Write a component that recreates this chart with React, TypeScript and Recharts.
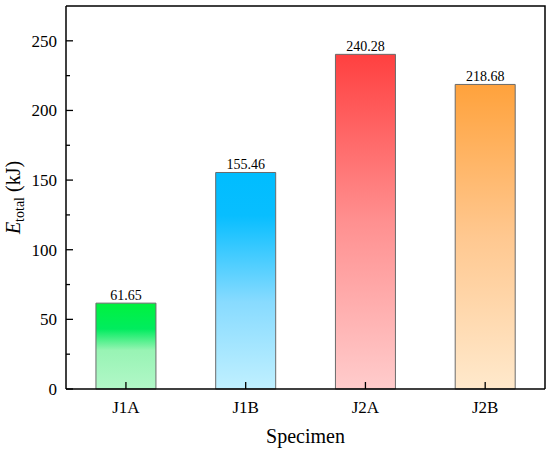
import React from 'react';
import {
  BarChart,
  Bar,
  XAxis,
  YAxis,
  Cell,
  LabelList,
} from 'recharts';

const specimens = ['J1A', 'J1B', 'J2A', 'J2B'];
const energyTotal = [61.65, 155.46, 240.28, 218.68];
const yTicks = [0, 25, 50, 75, 100, 125, 150, 175, 200, 225, 250];
const yMax = 275;

// top-to-bottom gradient stops for each bar
const barGradients = [
  [
    ['0%', '#00f23e'],
    ['30%', '#00ec5e'],
    ['55%', '#98f4b4'],
    ['100%', '#b2f7c8'],
  ],
  [
    ['0%', '#00bdff'],
    ['20%', '#08beff'],
    ['60%', '#88dbff'],
    ['100%', '#c0f0ff'],
  ],
  [
    ['0%', '#ff4040'],
    ['50%', '#ff9090'],
    ['100%', '#ffcccc'],
  ],
  [
    ['0%', '#ffa23c'],
    ['50%', '#ffc890'],
    ['100%', '#ffe9cc'],
  ],
];

const data = specimens.map((name, i) => ({ name, value: energyTotal[i] }));

const FONT = '"Liberation Serif", "Times New Roman", serif';
const W = 550;
const H = 453;
const MARGIN = { top: 6, right: 5, left: 0, bottom: 0 };
const Y_AXIS_W = 66;
const X_AXIS_H = 64;

const YTick = ({ x, y, payload }: any) => {
  const major = payload.value % 50 === 0;
  return (
    <g>
      <line x1={x} y1={y} x2={x + (major ? 7 : 4)} y2={y} stroke="#000" strokeWidth={1.3} />
      {major && (
        <text x={x - 9} y={y} dy={6} textAnchor="end" fontSize={17} fontFamily={FONT} fill="#000">
          {payload.value}
        </text>
      )}
    </g>
  );
};

const XTick = ({ x, y, payload }: any) => (
  <text x={x} y={y + 24} textAnchor="middle" fontSize={17} fontFamily={FONT} fill="#000">
    {payload.value}
  </text>
);

// inward x tick at the bottom centre of each bar, drawn above the fill
const BarTick = ({ x, y, width, height }: any) => {
  const cx = Number(x) + Number(width) / 2;
  const base = Number(y) + Number(height);
  return <line x1={cx} y1={base} x2={cx} y2={base - 7} stroke="#000" strokeWidth={1.3} />;
};

const YLabel = ({ viewBox }: any) => {
  const cx = viewBox.x + 20;
  const cy = viewBox.y + viewBox.height / 2;
  return (
    <text
      x={cx}
      y={cy}
      transform={`rotate(-90, ${cx}, ${cy})`}
      textAnchor="middle"
      fontSize={20}
      fontFamily={FONT}
      fill="#000"
    >
      <tspan fontStyle="italic">E</tspan>
      <tspan fontSize={14} dy={4}>total</tspan>
      <tspan dy={-4}> (kJ)</tspan>
    </text>
  );
};

const XLabel = ({ viewBox }: any) => (
  <text
    x={viewBox.x + viewBox.width / 2}
    y={viewBox.y + 54}
    textAnchor="middle"
    fontSize={20}
    fontFamily={FONT}
    fill="#000"
  >
    Specimen
  </text>
);

// top and right edges of the plot box
const FrameOverlay = () => {
  const left = MARGIN.left + Y_AXIS_W;
  const right = W - MARGIN.right;
  const top = MARGIN.top;
  const bottom = H - MARGIN.bottom - X_AXIS_H;
  return (
    <svg
      width={W}
      height={H}
      style={{ position: 'absolute', left: 0, top: 0, pointerEvents: 'none' }}
    >
      <polyline
        points={`${left},${top} ${right},${top} ${right},${bottom}`}
        fill="none"
        stroke="#000"
        strokeWidth={1.5}
      />
    </svg>
  );
};

export default function App() {
  return (
    <div style={{ position: 'absolute', left: 0, top: 0, width: W, height: H, background: '#fff' }}>
      <BarChart width={W} height={H} data={data} margin={MARGIN} barCategoryGap="25%">
        <defs>
          {barGradients.map((stops, i) => (
            <linearGradient key={i} id={`barGrad${i}`} x1="0" y1="0" x2="0" y2="1">
              {stops.map(([off, col]) => (
                <stop key={off} offset={off} stopColor={col} />
              ))}
            </linearGradient>
          ))}
        </defs>
        <Bar dataKey="value" stroke="#6b6b6b" strokeWidth={1} isAnimationActive={false}>
          {data.map((d, i) => (
            <Cell key={d.name} fill={`url(#barGrad${i})`} />
          ))}
          <LabelList
            dataKey="value"
            position="top"
            offset={3}
            formatter={(v: any) => Number(v).toFixed(2)}
            style={{ fontSize: 14, fontFamily: FONT, fill: '#000' }}
          />
          <LabelList dataKey="value" content={<BarTick />} />
        </Bar>
        <XAxis
          dataKey="name"
          tick={<XTick />}
          tickLine={false}
          tickSize={0}
          tickMargin={0}
          interval={0}
          height={X_AXIS_H}
          axisLine={{ stroke: '#000', strokeWidth: 1.5 }}
          label={<XLabel />}
        />
        <YAxis
          type="number"
          domain={[0, yMax]}
          ticks={yTicks}
          interval={0}
          tick={<YTick />}
          tickLine={false}
          tickSize={0}
          tickMargin={0}
          width={Y_AXIS_W}
          axisLine={{ stroke: '#000', strokeWidth: 1.5 }}
          label={<YLabel />}
        />
      </BarChart>
      <FrameOverlay />
    </div>
  );
}
